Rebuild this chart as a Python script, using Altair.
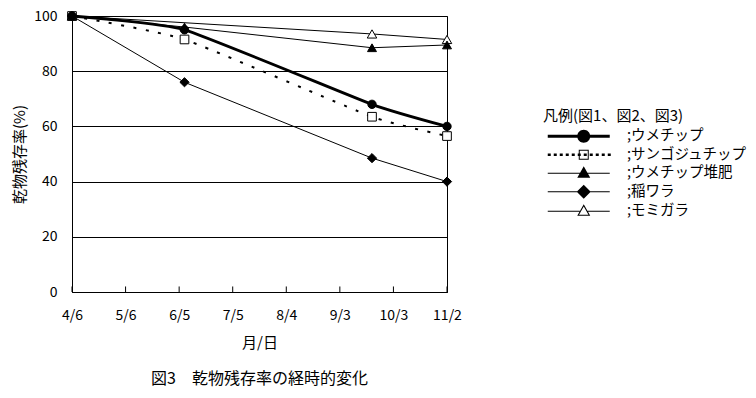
import altair as alt
import pandas as pd

# ---- data ----
year = 2009
sample_dates = ["04-06", "06-08", "09-21", "11-02"]
series = ["ウメチップ", "サンゴジュチップ", "ウメチップ堆肥", "稲ワラ", "モミガラ"]
umechip = [100, 95, 68, 60]
sangoju = [100, 91.5, 63.5, 56.5]
ume_compost = [100, 96, 88.5, 89.5]
inawara = [100, 76, 48.5, 40]
momigara = [100, None, 93.5, 91.5]
tick_labels = ["4/6", "5/6", "6/5", "7/5", "8/4", "9/3", "10/3", "11/2"]

values = {
    "ウメチップ": umechip,
    "サンゴジュチップ": sangoju,
    "ウメチップ堆肥": ume_compost,
    "稲ワラ": inawara,
    "モミガラ": momigara,
}

rows = []
for s in series:
    for d, v in zip(sample_dates, values[s]):
        if v is not None:
            rows.append({"series": s, "date": f"{year}-{d}", "value": v})
df = pd.DataFrame(rows)

# drawing order of markers (open markers below the filled ones)
draw_order = ["モミガラ", "サンゴジュチップ", "ウメチップ", "稲ワラ", "ウメチップ堆肥"]
df_pts = pd.concat([df[df.series == s] for s in draw_order], ignore_index=True)

def to_iso(lbl):
    m, d = lbl.split("/")
    return f"{year}-{int(m):02d}-{int(d):02d}"

tick_df = pd.DataFrame({"date": [to_iso(t) for t in tick_labels]})
tick_dt = [alt.DateTime(year=year, month=int(t.split("/")[0]), date=int(t.split("/")[1]), utc=True)
           for t in tick_labels]

FONT = "Noto Sans CJK JP"

# ---- legend glyphs (line + marker) as custom symbol paths ----
S = 6.5  # px per path unit (sqrt(size)/2)
MX = 5.0

def f(v):
    return f"{v / S:.3f}"

def rect(x0, y0, x1, y1):
    return f"M{f(x0)},{f(y0)}L{f(x1)},{f(y0)}L{f(x1)},{f(y1)}L{f(x0)},{f(y1)}Z"

def rect_rev(x0, y0, x1, y1):
    return f"M{f(x0)},{f(y0)}L{f(x0)},{f(y1)}L{f(x1)},{f(y1)}L{f(x1)},{f(y0)}Z"

def circle(cx, r):
    return (f"M{f(cx + r)},0A{f(r)},{f(r)} 0 1 1 {f(cx - r)},0"
            f"A{f(r)},{f(r)} 0 1 1 {f(cx + r)},0Z")

def poly(pts):
    return "M" + "L".join(f"{f(x)},{f(y)}" for x, y in pts) + "Z"

L = 31
p_ume = rect(-L, -1.5, L, 1.5) + circle(MX, 6.5)
dots = "".join(rect(x, -1.25, x + 3, 1.25) for x in range(-L, L - 1, 6))
p_sango = dots + rect(MX - 5, -5, MX + 5, 5) + rect_rev(MX - 4, -4, MX + 4, 4)
p_compost = rect(-L, -0.5, L, 0.5) + poly([(MX, -7), (MX + 6.5, 4.5), (MX - 6.5, 4.5)])
p_wara = rect(-L, -0.5, L, 0.5) + poly([(MX, -7), (MX + 7, 0), (MX, 7), (MX - 7, 0)])
hw = 6.5 * 7 / 11.5
p_momi = (rect(-L, -0.5, MX - hw, 0.5) + rect(MX + hw, -0.5, L, 0.5)
          + poly([(MX, -7), (MX + 6.5, 4.5), (MX - 6.5, 4.5)])
          + poly([(MX, -4.8), (MX - 4.7, 3.5), (MX + 4.7, 3.5)]))
legend_paths = [p_ume, p_sango, p_compost, p_wara, p_momi]

x_enc = alt.X(
    "date:T",
    scale=alt.Scale(type="utc", domain=[tick_dt[0], tick_dt[-1]], nice=False),
    axis=alt.Axis(
        values=tick_dt, format="%-m/%-d", title="月/日", ticks=False, grid=False,
        labelPadding=16, labelFontSize=14, labelFont=FONT, labelColor="black",
        titleFont=FONT, titleFontSize=15, titleFontWeight="normal", titleColor="black",
        titleY=50, titleBaseline="middle", domainColor="black", labelFlush=False,
    ),
)
y_enc = alt.Y(
    "value:Q",
    scale=alt.Scale(domain=[0, 100], nice=False),
    axis=alt.Axis(
        values=[0, 20, 40, 60, 80, 100], title="乾物残存率(%)", ticks=False,
        labelPadding=15, labelFontSize=14, labelFont=FONT, labelColor="black",
        grid=True, gridColor="black", gridWidth=1, gridOpacity=1,
        titleFont=FONT, titleFontSize=15, titleFontWeight="normal", titleColor="black",
        titleX=-53, titleY=138, titleAlign="center", titleBaseline="middle",
        domainColor="black", labelFlush=False,
    ),
)

base = alt.Chart(df)

line_ume = base.transform_filter(alt.datum.series == "ウメチップ").mark_line(
    color="black", strokeWidth=2.8, interpolate="cardinal", tension=0.55
).encode(x=x_enc, y=y_enc)

line_sango = base.transform_filter(alt.datum.series == "サンゴジュチップ").mark_line(
    color="black", strokeWidth=2, strokeDash=[3, 9.5], interpolate="cardinal", tension=0.55
).encode(x=x_enc, y=y_enc)

thin = ["ウメチップ堆肥", "稲ワラ", "モミガラ"]
line_thin = base.transform_filter(
    alt.FieldOneOfPredicate(field="series", oneOf=thin)
).mark_line(color="black", strokeWidth=1).encode(x=x_enc, y=y_enc, detail="series:N")

ticks = alt.Chart(tick_df).mark_rule(color="black", strokeWidth=1).encode(
    x=alt.X("date:T"), y=alt.datum(0), y2=alt.datum(2),
)

points = alt.Chart(df_pts).mark_point(stroke="black", strokeWidth=1, opacity=1).encode(
    x=x_enc, y=y_enc,
    shape=alt.Shape("series:N", scale=alt.Scale(
        domain=series, range=["circle", "square", "triangle-up", "diamond", "triangle-up"]),
        legend=None),
    fill=alt.Fill("series:N", scale=alt.Scale(
        domain=series, range=["black", "white", "black", "black", "white"]), legend=None),
    size=alt.Size("series:N", scale=alt.Scale(domain=series, range=[70, 90, 110, 100, 110]),
                  legend=None),
)

legend_layer = alt.Chart(df).transform_filter("false").mark_point(
    filled=True, color="black", opacity=1, strokeWidth=0
).encode(
    shape=alt.Shape(
        "series:N",
        scale=alt.Scale(domain=series, range=legend_paths),
        legend=alt.Legend(
            title="凡例(図1、図2、図3)", orient="none", legendX=471, legendY=93,
            symbolSize=169, symbolOffset=28.5, labelOffset=41, rowPadding=3.5,
            titlePadding=5, labelExpr="';' + datum.label", symbolStrokeWidth=0,
            symbolFillColor="black", symbolOpacity=1, labelFont=FONT, labelFontSize=14.5,
            labelColor="black", titleFont=FONT, titleFontSize=15, titleFontWeight="normal",
            titleColor="black", padding=0, labelLimit=0, titleLimit=0,
        ),
    )
)

chart = alt.layer(
    line_thin, line_sango, line_ume, ticks, points, legend_layer
).resolve_scale(shape="independent").properties(
    width=375, height=276,
    autosize=alt.AutoSizeParams(type="none"),
    padding={"left": 64, "top": 8, "right": 301, "bottom": 98},
    title=alt.TitleParams(
        "図3　乾物残存率の経時的変化", orient="bottom", anchor="middle",
        font=FONT, fontSize=16, fontWeight="normal", color="black", offset=21,
    ),
    background="white",
).configure_view(stroke="black", strokeWidth=1)

chart.save("out.html", embed_options={"renderer": "svg", "actions": False})
